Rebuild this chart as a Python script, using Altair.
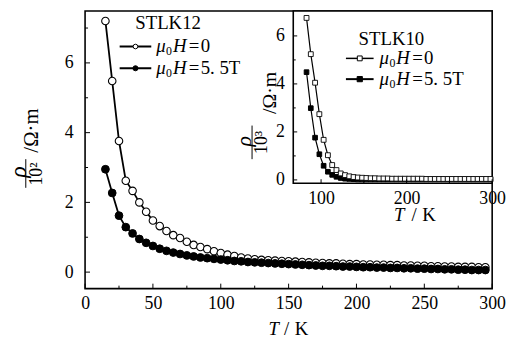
import altair as alt
import pandas as pd

# ---------------- data ----------------
# Main panel: STLK12, rho in 10^2 Ohm*m
T_MAIN = [15, 20, 25, 30, 35, 40, 45, 50, 55, 60,
          65, 70, 75, 80, 85, 90, 95, 100, 105, 110,
          115, 120, 125, 130, 135, 140, 145, 150, 155, 160,
          165, 170, 175, 180, 185, 190, 195, 200, 205, 210,
          215, 220, 225, 230, 235, 240, 245, 250, 255, 260,
          265, 270, 275, 280, 285, 290, 295]
RHO_MAIN_H0 = [7.20, 5.48, 3.76, 2.62, 2.33, 2.00, 1.73, 1.48, 1.32, 1.18,
               1.06, 0.98, 0.87, 0.78, 0.72, 0.66, 0.60, 0.55, 0.50, 0.46,
               0.42, 0.39, 0.37, 0.35, 0.34, 0.33, 0.32, 0.31, 0.30, 0.29,
               0.28, 0.27, 0.26, 0.25, 0.25, 0.24, 0.23, 0.23, 0.22, 0.22,
               0.21, 0.21, 0.20, 0.20, 0.19, 0.19, 0.18, 0.18, 0.17, 0.17,
               0.16, 0.16, 0.15, 0.15, 0.15, 0.14, 0.14]
RHO_MAIN_H55 = [2.95, 2.27, 1.62, 1.29, 1.11, 0.95, 0.84, 0.75, 0.67, 0.61,
                0.56, 0.52, 0.48, 0.45, 0.42, 0.40, 0.38, 0.36, 0.34, 0.32,
                0.31, 0.29, 0.28, 0.27, 0.26, 0.25, 0.24, 0.23, 0.22, 0.21,
                0.20, 0.19, 0.18, 0.18, 0.17, 0.16, 0.16, 0.15, 0.14, 0.14,
                0.13, 0.13, 0.12, 0.12, 0.11, 0.11, 0.10, 0.10, 0.09, 0.09,
                0.08, 0.08, 0.07, 0.07, 0.06, 0.06, 0.06]

# Inset: STLK10, rho in 10^3 Ohm*m
T_INSET = [83, 88, 93, 98, 103, 108, 113, 118, 123, 128,
           133, 138, 143, 148, 153, 158, 163, 168, 173, 178,
           183, 188, 193, 198, 203, 208, 213, 218, 223, 228,
           233, 238, 243, 248, 253, 258, 263, 268, 273, 278,
           283, 288, 293, 298]
RHO_INSET_H0 = [6.75, 5.24, 4.05, 2.74, 1.67, 1.03, 0.62, 0.41, 0.27, 0.20,
                0.15, 0.12, 0.10, 0.09, 0.08, 0.07, 0.07, 0.06, 0.06, 0.06,
                0.05, 0.05, 0.05, 0.05, 0.05, 0.05, 0.05, 0.05, 0.04, 0.04,
                0.04, 0.04, 0.04, 0.04, 0.04, 0.04, 0.04, 0.04, 0.04, 0.04,
                0.04, 0.04, 0.04, 0.04]
RHO_INSET_H55 = [4.49, 2.99, 1.76, 1.07, 0.59, 0.34, 0.21, 0.13, 0.08, 0.05,
                 0.04, 0.03, 0.02, 0.02, 0.02, 0.02, 0.02, 0.02, 0.02, 0.02,
                 0.02, 0.02, 0.02, 0.02, 0.02, 0.02, 0.02, 0.02, 0.02, 0.02,
                 0.02, 0.02, 0.02, 0.02, 0.02, 0.02, 0.02, 0.02, 0.02, 0.02,
                 0.02, 0.02, 0.02, 0.02]

# axes
X_MAIN_DOMAIN = [0, 300]
Y_MAIN_DOMAIN = [-0.473, 7.49]
X_MAIN_TICKS = [0, 50, 100, 150, 200, 250, 300]
X_MAIN_MINOR = [25, 75, 125, 175, 225, 275]
Y_MAIN_TICKS = [0, 2, 4, 6]
Y_MAIN_MINOR = [1, 3, 5, 7]

X_INSET_DOMAIN = [67.5, 300]
Y_INSET_DOMAIN = [-0.136, 7.04]
X_INSET_TICKS = [100, 200, 300]
X_INSET_MINOR = [150, 250]
Y_INSET_TICKS = [0, 2, 4, 6]
Y_INSET_MINOR = [1, 3, 5]

LEGEND_MAIN_TITLE = "STLK12"
LEGEND_INSET_TITLE = "STLK10"
FIELD_VALUES = ["0", "5. 5T"]

# ---------------- layout ----------------
W, H = 412, 281
OX, OY = 86, 9           # page position of the plot origin
INSET_X_RANGE = [210.7, W]
INSET_Y_RANGE = [174.3, 0]
SERIF = "Liberation Serif, Times New Roman, serif"
ONE = pd.DataFrame({"k": [0]})


def px(x):
    return x - OX


def py(y):
    return y - OY


main_df = pd.DataFrame({"T": T_MAIN, "h0": RHO_MAIN_H0, "h55": RHO_MAIN_H55})
inset_df = pd.DataFrame({"T": T_INSET, "h0": RHO_INSET_H0, "h55": RHO_INSET_H55})

xs_main = alt.Scale(domain=X_MAIN_DOMAIN, nice=False, zero=False)
ys_main = alt.Scale(domain=Y_MAIN_DOMAIN, nice=False, zero=False)
xs_in = alt.Scale(domain=X_INSET_DOMAIN, range=INSET_X_RANGE, nice=False, zero=False)
ys_in = alt.Scale(domain=Y_INSET_DOMAIN, range=INSET_Y_RANGE, nice=False, zero=False)

axis_common = dict(ticks=False, domain=False, grid=False, labelFont=SERIF,
                   labelFontSize=18, labelColor="black", labelFlush=False,
                   labelOverlap=False, title=None, format="d")
ax_x_main = alt.Axis(values=X_MAIN_TICKS, orient="bottom", labelPadding=6, **axis_common)
ax_y_main = alt.Axis(values=Y_MAIN_TICKS, orient="left", labelPadding=12, **axis_common)
ax_x_in = alt.Axis(values=X_INSET_TICKS, orient="bottom", offset=-(H - INSET_Y_RANGE[0]),
                   labelPadding=7, **axis_common)
ax_y_in = alt.Axis(values=Y_INSET_TICKS, orient="left", offset=-INSET_X_RANGE[0],
                   labelPadding=9, **axis_common)


def text(s, xp, yp, size=18, italic=False, angle=0, align="center"):
    return alt.Chart(ONE).mark_text(
        text=s, font=SERIF, fontSize=size, fontStyle="italic" if italic else "normal",
        angle=angle, align=align, baseline="middle", color="black"
    ).encode(x=alt.value(px(xp)), y=alt.value(py(yp)))


def hline(x0, x1, y, w=1.0):
    return alt.Chart(ONE).mark_rule(color="black", strokeWidth=w).encode(
        x=alt.value(px(x0)), x2=alt.value(px(x1)), y=alt.value(py(y)))


def vline(x, y0, y1, w=1.0):
    return alt.Chart(ONE).mark_rule(color="black", strokeWidth=w).encode(
        x=alt.value(px(x)), y=alt.value(py(y0)), y2=alt.value(py(y1)))


def marker(x, y, shape, filled, size):
    return alt.Chart(ONE).mark_point(
        shape=shape, filled=True, fill="black" if filled else "white",
        stroke="black", strokeWidth=1, size=size, opacity=1
    ).encode(x=alt.value(px(x)), y=alt.value(py(y)))


def field_label(x_mu, y, value, size=19):
    return [
        text("μ", x_mu, y, size=size, italic=True, align="left"),
        text("0", x_mu + 10, y + 5, size=12, align="left"),
        text("H", x_mu + 17, y, size=size, italic=True, align="left"),
        text("=", x_mu + 33, y, size=size, align="left"),
        text(value, x_mu + 45, y, size=size, align="left"),
    ]


def xticks(vals, scale, axis, ybase, length):
    d = pd.DataFrame({"v": vals})
    return alt.Chart(d).mark_rule(color="black", strokeWidth=1).encode(
        x=alt.X("v:Q", scale=scale, axis=axis),
        y=alt.value(ybase), y2=alt.value(ybase - length))


def yticks(vals, scale, axis, xbase, length):
    d = pd.DataFrame({"v": vals})
    return alt.Chart(d).mark_rule(color="black", strokeWidth=1).encode(
        y=alt.Y("v:Q", scale=scale, axis=axis),
        x=alt.value(xbase), x2=alt.value(xbase + length))


# ---------------- main panel ----------------
base_main = alt.Chart(main_df)
enc_x_main = alt.X("T:Q", scale=xs_main, axis=ax_x_main)

main_layers = [
    base_main.mark_line(color="black", strokeWidth=1.8).encode(
        x=enc_x_main, y=alt.Y("h0:Q", scale=ys_main, axis=ax_y_main)),
    base_main.mark_line(color="black", strokeWidth=1.8).encode(
        x=enc_x_main, y=alt.Y("h55:Q", scale=ys_main, axis=ax_y_main)),
    base_main.mark_point(shape="circle", filled=True, fill="white", stroke="black",
                         strokeWidth=1.1, size=58, opacity=1).encode(
        x=enc_x_main, y=alt.Y("h0:Q", scale=ys_main, axis=ax_y_main)),
    base_main.mark_point(shape="circle", filled=True, fill="black", stroke="black",
                         strokeWidth=1, size=62, opacity=1).encode(
        x=enc_x_main, y=alt.Y("h55:Q", scale=ys_main, axis=ax_y_main)),
    xticks(X_MAIN_TICKS, xs_main, ax_x_main, H, 5),
    xticks(X_MAIN_MINOR, xs_main, ax_x_main, H, 3),
    yticks(Y_MAIN_TICKS, ys_main, ax_y_main, 0, 5),
    yticks(Y_MAIN_MINOR, ys_main, ax_y_main, 0, 3),
    # legend
    text(LEGEND_MAIN_TITLE, 170, 21, size=19),
    hline(121, 153, 45, 2),
    marker(137, 45, "circle", False, 22),
    hline(121, 153, 67, 2),
    marker(137, 67, "circle", True, 26),
    *field_label(158, 45, FIELD_VALUES[0]),
    *field_label(158, 67, FIELD_VALUES[1]),
    # x title
    text("T", 277, 331, size=19, italic=True),
    text("/", 290, 331, size=19),
    text("K", 305, 331, size=19),
    # y title (rotated fraction)
    text("ρ", 19, 172, size=24, italic=True, angle=270),
    vline(26, 159, 188, 1),
    text("10²", 37, 174, size=18, angle=270),
    text("/Ω·m", 32, 130, size=21, angle=270),
    # inset y title
    text("ρ", 247, 141, size=22, italic=True, angle=270),
    vline(255, 125, 159, 1),
    text("10³", 265, 142, size=18, angle=270),
    text("/Ω·m", 273, 92, size=20, angle=270),
    # inset x title
    text("T", 404, 216, size=19, italic=True),
    text("/", 419, 216, size=19),
    text("K", 434, 216, size=19),
]
main = alt.layer(*main_layers)

# ---------------- inset ----------------
frame_df = pd.DataFrame({"x0": [X_INSET_DOMAIN[0]], "x1": [X_INSET_DOMAIN[1]],
                         "y0": [Y_INSET_DOMAIN[0]], "y1": [Y_INSET_DOMAIN[1]]})
base_in = alt.Chart(inset_df)
enc_x_in = alt.X("T:Q", scale=xs_in, axis=ax_x_in)

inset_layers = [
    alt.Chart(frame_df).mark_rect(fill="white", stroke="black", strokeWidth=1.6).encode(
        x=alt.X("x0:Q", scale=xs_in, axis=ax_x_in), x2="x1:Q",
        y=alt.Y("y0:Q", scale=ys_in, axis=ax_y_in), y2="y1:Q"),
    base_in.mark_line(color="black", strokeWidth=1.2).encode(
        x=enc_x_in, y=alt.Y("h55:Q", scale=ys_in, axis=ax_y_in)),
    base_in.mark_line(color="black", strokeWidth=1.2).encode(
        x=enc_x_in, y=alt.Y("h0:Q", scale=ys_in, axis=ax_y_in)),
    base_in.mark_point(shape="square", filled=True, fill="black", stroke="black",
                       strokeWidth=1, size=22, opacity=1).encode(
        x=enc_x_in, y=alt.Y("h55:Q", scale=ys_in, axis=ax_y_in)),
    base_in.mark_point(shape="square", filled=True, fill="white", stroke="black",
                       strokeWidth=0.9, size=24, opacity=1).encode(
        x=enc_x_in, y=alt.Y("h0:Q", scale=ys_in, axis=ax_y_in)),
    xticks(X_INSET_TICKS, xs_in, ax_x_in, INSET_Y_RANGE[0], 4),
    xticks(X_INSET_MINOR, xs_in, ax_x_in, INSET_Y_RANGE[0], 2.5),
    yticks(Y_INSET_TICKS, ys_in, ax_y_in, INSET_X_RANGE[0], 4),
    yticks(Y_INSET_MINOR, ys_in, ax_y_in, INSET_X_RANGE[0], 2.5),
    # legend
    text(LEGEND_INSET_TITLE, 396, 37, size=19),
    hline(350, 378, 57, 1.5),
    marker(364, 57, "square", False, 24),
    hline(350, 378, 78, 2),
    marker(364, 78, "square", True, 28),
    *field_label(384, 57, FIELD_VALUES[0]),
    *field_label(384, 78, FIELD_VALUES[1]),
]
inset = alt.layer(*inset_layers)

chart = alt.layer(main, inset).resolve_scale(
    x="independent", y="independent"
).properties(
    width=W, height=H,
    autosize=alt.AutoSizeParams(type="none"),
    padding={"left": OX - 8, "top": OY - 8, "right": 14, "bottom": 346 - 8 - OY - H},
    background="white",
).configure(
    font=SERIF
).configure_axis(
    labelFont=SERIF, labelFontSize=18, labelColor="black"
).configure_text(
    font=SERIF
).configure_view(stroke="black", strokeWidth=1.6)

chart.save("out.html", embed_options={"renderer": "svg", "actions": False})
